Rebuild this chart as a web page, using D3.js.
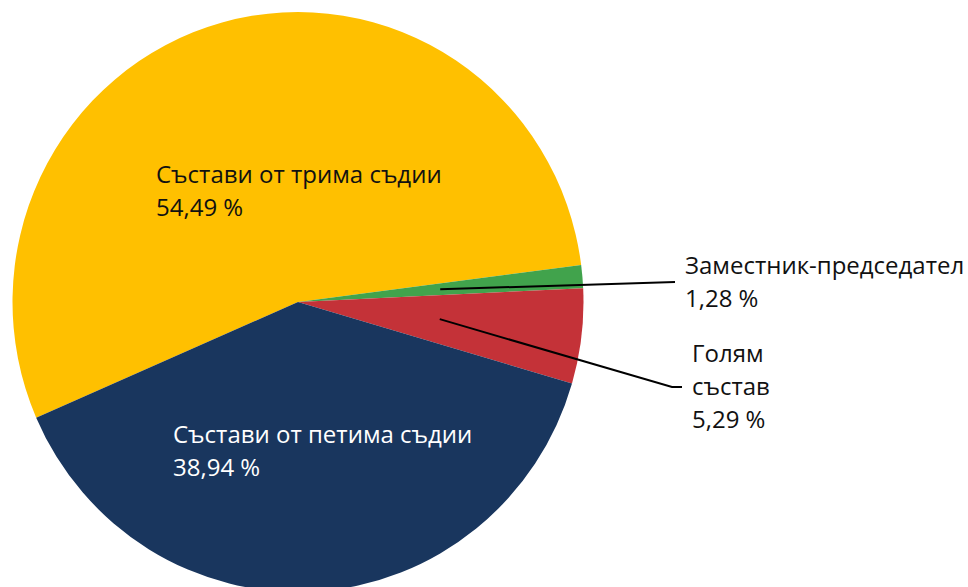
<!DOCTYPE html>
<html>
<head>
<meta charset="utf-8">
<script src="https://cdn.jsdelivr.net/npm/d3@7"></script>
<style>
  html, body { margin: 0; padding: 0; background: #fff; }
  svg { display: block; }
  text { font-family: "Open Sans", "Noto Sans", sans-serif; }
</style>
</head>
<body>
<svg id="chart" width="968" height="587"></svg>
<script>
// shares of cases by panel type
const categories = ["Състави от трима съдии", "Заместник-председател", "Голям състав", "Състави от петима съдии"];
const values = [54.49, 1.28, 5.29, 38.94];
const valueLabels = ["54,49 %", "1,28 %", "5,29 %", "38,94 %"];
const labelLines = [["Състави от трима съдии"], ["Заместник-председател"], ["Голям", "състав"], ["Състави от петима съдии"]];
const colors = ["#FFC000", "#41A34C", "#C43238", "#19365E"];

const W = 968, H = 587;
const cx = 298, cy = 302, rx = 285.5, ry = 290;
const fontSize = 24, lineH = 33;

// where each label goes: inside labels are offsets from the centre,
// outside ones hang off a leader line
const layout = [
  { inside: true, x: -142, y: -119, fill: "#111" },
  { inside: false, end: [675, 282], elbow: null, fill: "#111" },
  { inside: false, end: [682, 387], elbow: [672, 387], fill: "#111" },
  { inside: true, x: -125, y: 141, fill: "#fff" },
];

const svg = d3.select("#chart");
const rad = (d) => d * Math.PI / 180;

const pie = d3.pie().sort(null).value((d) => d.v)
  .startAngle(rad(-113.5)).endAngle(rad(246.5));
const data = pie(values.map((v, i) => ({ v, i })));

const arc = d3.arc().innerRadius(0).outerRadius(rx);

// slightly taller than wide, like the source
const g = svg.append("g").attr("transform", `translate(${cx},${cy}) scale(1,${ry / rx})`);
g.selectAll("path").data(data).join("path")
  .attr("d", arc)
  .attr("fill", (d) => colors[d.data.i]);

const labelArc = d3.arc().innerRadius(rx * 0.5).outerRadius(rx * 0.5);

const gl = svg.append("g");
data.forEach((d) => {
  const i = d.data.i, L = layout[i];
  const lines = labelLines[i].concat([valueLabels[i]]);
  let x0, y0;
  if (L.inside) {
    x0 = cx + L.x; y0 = cy + L.y;
  } else {
    const c = labelArc.centroid(d);
    const p0 = [cx + c[0], cy + c[1] * ry / rx];
    const pts = [p0];
    if (L.elbow) pts.push(L.elbow);
    pts.push(L.end);
    gl.append("path")
      .attr("d", d3.line()(pts))
      .attr("fill", "none")
      .attr("stroke", "#000")
      .attr("stroke-width", 2);
    x0 = L.end[0] + 10;
    // block of lines centred on the leader end
    y0 = L.end[1] - ((lines.length - 1) * lineH) / 2 + 8;
  }
  const t = gl.append("text")
    .attr("x", x0).attr("y", y0)
    .attr("font-size", fontSize)
    .attr("fill", L.fill);
  lines.forEach((s, k) => {
    t.append("tspan").attr("x", x0).attr("dy", k === 0 ? 0 : lineH).text(s);
  });
});
</script>
</body>
</html>
